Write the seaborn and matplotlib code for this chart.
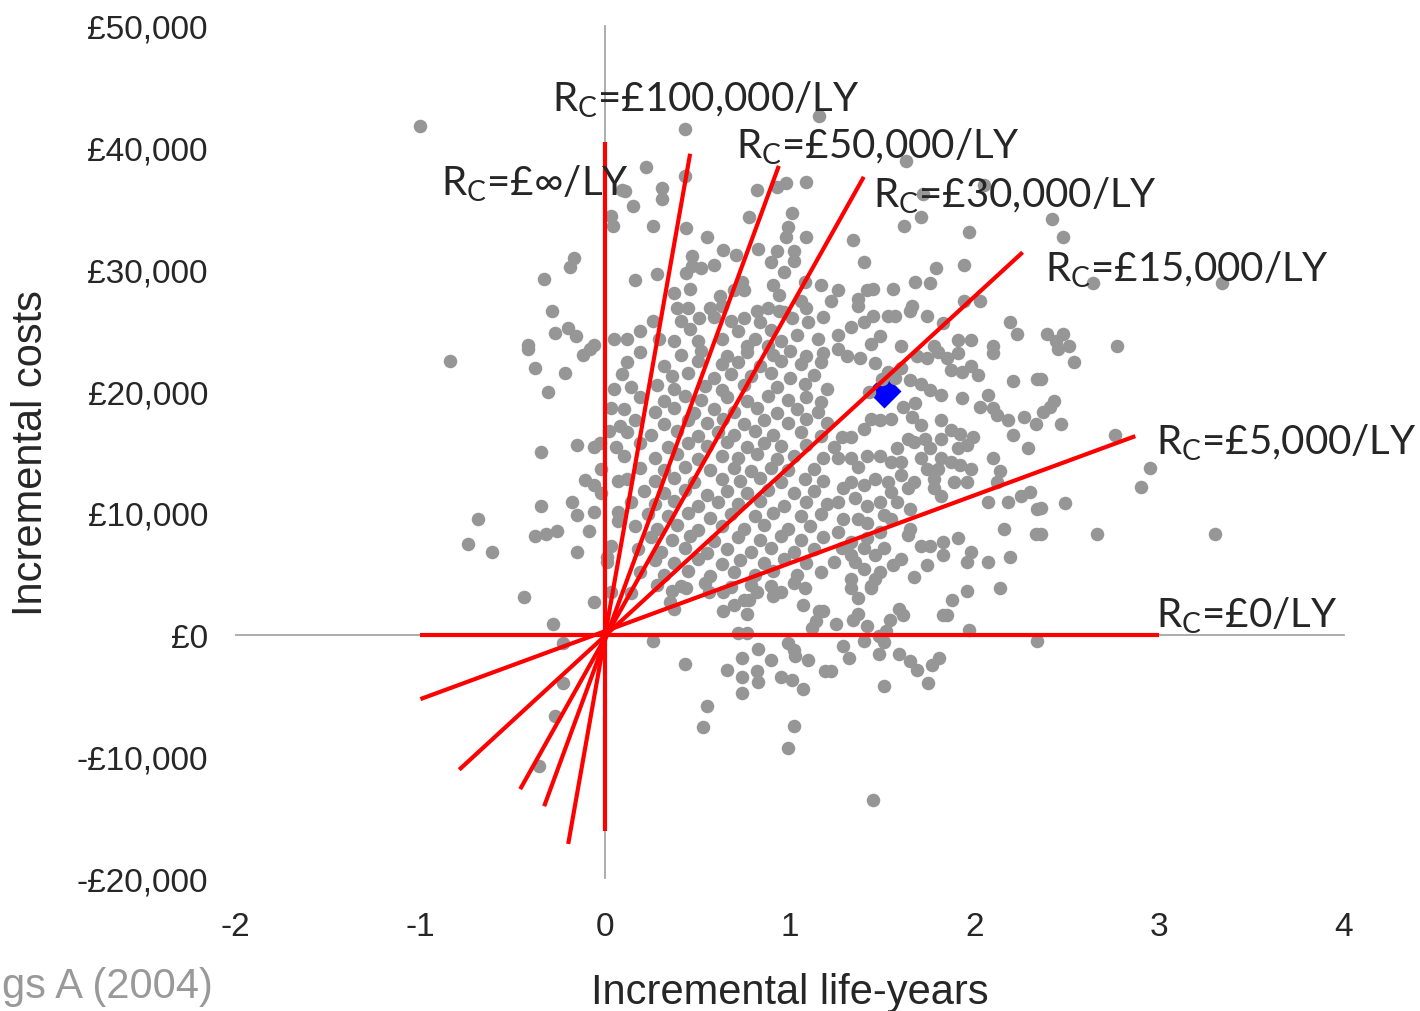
import matplotlib
matplotlib.use('Agg')
import matplotlib.pyplot as plt
import seaborn as sns
import pandas as pd

# incremental life-years / incremental costs (in £ thousands)
left_pts = [(-1.00, 41.8), (-0.84, 22.5), (-0.74, 7.4), (-0.69, 9.5), (-0.61, 6.8),
            (-0.44, 3.1), (-0.06, 2.7), (-0.28, 0.9), (-0.23, -0.7), (-0.23, -4.0),
            (-0.27, -6.7), (-0.36, -10.8),
            (-0.38, 21.9), (-0.22, 21.5), (-0.31, 19.9), (-0.12, 23.0), (-0.08, 23.5),
            (-0.42, 23.5), (0.05, 20.2), (0.03, 18.6), (0.02, 16.7), (0.08, 17.1),
            (-0.15, 15.6), (-0.06, 15.4), (-0.03, 15.7), (0.06, 15.4), (-0.35, 15.0),
            (-0.02, 13.6), (-0.11, 12.7), (-0.06, 12.3), (-0.02, 11.6), (0.07, 12.6),
            (-0.18, 10.9), (-0.35, 10.6), (-0.15, 9.8), (-0.06, 10.1), (0.07, 10.1),
            (0.07, 9.3), (-0.38, 8.1), (-0.32, 8.3), (-0.26, 8.5), (-0.09, 8.5),
            (-0.15, 6.8), (0.03, 7.3), (0.01, 6.4), (0.01, 6.0), (0.03, 3.5),
            (0.03, 34.4), (0.04, 33.6), (-0.17, 30.9), (-0.19, 30.2), (-0.33, 29.2),
            (-0.29, 26.6), (-0.20, 25.2), (-0.27, 24.8), (-0.16, 24.5), (-0.06, 23.8),
            (-0.42, 23.8), (0.05, 24.3), (0.09, 36.5)]

upper_pts = [(0.43, 41.5), (1.16, 42.6), (0.22, 38.4), (0.43, 37.7), (0.11, 36.4),
             (0.31, 36.7), (0.31, 35.8), (0.15, 35.2), (0.26, 33.6), (0.44, 33.4),
             (0.55, 32.7), (0.82, 36.5), (0.93, 36.8), (0.98, 37.1), (1.09, 37.2),
             (0.78, 34.3), (1.01, 34.6), (0.99, 33.5), (0.98, 32.7), (1.09, 32.7),
             (0.64, 31.6), (0.71, 31.2), (0.83, 31.7), (0.93, 31.5), (1.02, 31.5),
             (1.02, 30.7), (0.90, 30.6), (0.97, 29.8), (0.47, 31.1), (0.52, 30.1),
             (0.47, 30.3), (0.59, 30.4), (0.44, 29.7), (0.28, 29.6), (0.16, 29.1),
             (0.46, 28.4), (0.37, 28.1), (0.62, 27.8), (0.70, 28.3), (0.74, 29.0),
             (0.75, 28.3), (0.91, 28.7), (0.94, 27.9), (1.08, 29.0), (1.17, 28.7),
             (1.06, 27.4), (1.09, 26.8), (0.39, 26.8), (0.45, 26.8), (0.57, 26.8),
             (0.63, 27.0), (0.82, 26.6), (0.88, 26.8), (0.94, 26.6), (0.97, 26.5),
             (0.26, 25.8), (0.41, 25.8), (0.51, 26.0), (0.59, 26.1), (0.68, 25.8),
             (0.75, 26.0), (0.84, 25.7), (1.01, 26.0), (1.10, 25.7), (1.18, 26.1),
             (0.19, 24.9), (0.12, 24.3), (0.29, 24.3), (0.37, 24.1), (0.46, 25.1),
             (0.50, 24.1), (0.63, 24.3), (0.72, 24.9), (0.81, 24.3), (0.90, 25.0),
             (0.95, 24.1), (1.04, 24.6), (1.15, 24.3), (0.77, 23.7), (0.88, 23.7),
             (1.63, 38.9), (2.05, 36.9), (1.72, 36.2), (1.71, 34.3), (1.62, 33.6),
             (1.97, 33.1), (1.34, 32.4), (1.40, 30.6), (1.94, 30.4), (1.79, 30.1),
             (1.68, 29.0), (1.76, 28.9), (1.45, 28.4), (1.56, 28.4), (1.42, 28.3),
             (1.26, 28.3), (1.37, 27.6), (1.37, 27.0), (1.22, 27.4), (1.66, 27.0),
             (1.94, 27.4), (2.03, 27.4), (1.45, 26.2), (1.53, 26.2), (1.57, 26.2),
             (1.65, 26.6), (1.74, 26.2), (1.40, 25.7), (1.33, 25.3), (1.26, 24.6),
             (1.49, 24.5), (1.44, 23.9), (1.83, 25.6), (2.19, 25.7), (2.23, 24.7),
             (1.91, 24.2), (1.98, 24.2), (2.10, 23.7), (1.60, 23.7), (1.78, 23.7),
             (2.42, 34.1), (2.48, 32.7), (2.64, 28.9), (3.34, 28.9), (2.39, 24.7),
             (2.48, 24.7), (2.44, 24.1), (2.51, 23.7), (2.77, 23.7)]

right_pts = [(2.45, 23.5), (2.54, 22.4), (2.36, 21.0), (2.43, 19.2), (2.37, 18.3),
             (2.41, 18.7), (2.47, 17.3), (2.76, 16.4), (2.95, 13.7), (2.90, 12.1),
             (2.36, 10.4), (2.49, 10.8), (2.36, 8.3), (2.66, 8.3), (3.30, 8.3),
             (1.26, 23.5), (1.31, 22.9), (1.38, 22.7), (1.46, 22.3), (1.53, 21.6),
             (1.60, 21.9), (1.65, 20.9), (1.71, 20.6), (1.76, 20.1), (1.82, 19.7),
             (1.69, 22.9), (1.74, 22.7), (1.80, 23.2), (1.85, 22.7), (1.91, 23.1),
             (1.87, 21.7), (1.93, 21.6), (1.98, 22.1), (2.02, 21.3), (2.10, 23.1),
             (2.21, 20.8), (2.34, 21.0), (2.07, 19.7), (1.93, 19.4), (2.03, 18.7),
             (2.10, 18.6), (2.12, 18.0), (2.18, 17.6), (2.27, 17.9), (2.33, 17.3),
             (2.21, 16.4), (2.29, 15.3), (2.10, 14.5), (2.14, 13.4), (2.12, 12.5),
             (2.07, 10.9), (2.18, 10.9), (2.25, 11.4), (2.30, 11.7), (2.34, 10.3),
             (2.16, 8.7), (2.33, 8.3), (2.19, 6.4), (2.07, 6.0), (1.96, 6.0),
             (1.98, 6.8), (1.91, 7.9), (1.83, 7.6), (1.83, 6.5), (1.74, 5.7),
             (1.67, 4.7), (1.56, 5.7), (1.60, 6.2), (1.49, 5.1), (1.46, 4.6),
             (1.40, 5.4), (1.35, 6.0), (1.33, 4.6), (1.44, 4.0), (1.76, 7.3),
             (1.64, 8.2), (1.65, 8.7), (1.71, 7.3), (1.82, 11.4), (1.78, 12.0),
             (1.89, 12.5), (1.96, 12.5), (1.87, 14.2), (1.82, 14.5), (1.80, 13.6),
             (1.92, 13.9), (1.98, 13.6), (1.91, 15.3), (1.96, 15.6), (1.99, 16.2),
             (1.92, 16.5), (1.87, 16.8), (1.82, 17.6), (1.82, 16.1), (1.76, 15.3),
             (1.73, 16.1), (1.67, 15.8), (1.64, 16.1), (1.58, 15.3), (1.71, 17.2),
             (1.66, 17.9), (1.68, 19.0), (1.61, 18.7), (1.55, 17.7), (1.49, 17.6),
             (1.44, 17.7), (1.40, 16.9), (1.33, 16.2), (1.28, 16.2), (1.26, 14.5),
             (1.24, 15.4), (1.33, 14.5), (1.37, 13.8), (1.42, 14.7), (1.49, 14.7),
             (1.55, 14.2), (1.60, 14.2), (1.60, 13.1), (1.53, 12.5), (1.46, 12.8),
             (1.40, 12.3), (1.33, 12.5), (1.29, 12.0), (1.26, 10.9), (1.35, 11.2),
             (1.42, 10.6), (1.49, 10.9), (1.55, 11.7), (1.64, 12.0), (1.67, 12.5),
             (1.65, 10.3), (1.58, 10.9), (1.51, 9.8), (1.42, 9.2), (1.37, 9.5),
             (1.29, 9.5), (1.26, 8.4), (1.33, 7.6), (1.42, 7.9), (1.49, 8.4),
             (1.55, 9.5), (1.40, 7.1), (1.46, 6.5), (1.51, 7.1), (1.33, 6.5),
             (1.28, 7.1), (1.24, 6.0), (1.74, 13.6), (1.78, 12.8), (1.71, 14.5),
             (1.50, 21.0), (1.57, 21.1), (1.43, 19.9)]

core_pts = [(0.19, 23.2), (0.41, 23.0), (0.52, 23.3), (0.66, 22.9), (0.77, 23.2), (0.91, 23.0),
            (1.00, 23.3), (1.09, 22.9), (1.18, 23.1),
            (0.12, 22.4), (0.32, 22.1), (0.50, 22.5), (0.63, 22.2), (0.72, 22.4), (0.84, 22.1),
            (0.95, 22.5), (1.06, 22.2), (1.17, 22.4),
            (0.09, 21.4), (0.36, 21.2), (0.45, 21.5), (0.59, 21.1), (0.68, 21.4), (0.79, 21.2),
            (0.90, 21.5), (1.00, 21.1), (1.13, 21.3),
            (0.14, 20.3), (0.28, 20.5), (0.37, 20.2), (0.54, 20.4), (0.63, 20.1), (0.75, 20.5),
            (0.93, 20.3), (1.08, 20.6), (1.20, 20.2),
            (0.19, 19.5), (0.32, 19.2), (0.43, 19.6), (0.52, 19.3), (0.66, 19.5), (0.77, 19.2),
            (0.88, 19.6), (0.99, 19.3), (1.09, 19.5), (1.17, 19.1),
            (0.10, 18.5), (0.27, 18.3), (0.37, 18.6), (0.48, 18.2), (0.59, 18.5), (0.70, 18.3),
            (0.82, 18.6), (0.93, 18.2), (1.04, 18.5), (1.15, 18.3),
            (0.16, 17.6), (0.32, 17.3), (0.45, 17.6), (0.55, 17.4), (0.64, 17.7), (0.75, 17.3),
            (0.86, 17.6), (0.99, 17.4), (1.09, 17.7), (1.20, 17.4),
            (0.12, 16.6), (0.25, 16.4), (0.39, 16.7), (0.50, 16.3), (0.61, 16.6), (0.70, 16.4),
            (0.81, 16.7), (0.91, 16.4), (1.06, 16.6), (1.17, 16.3),
            (0.19, 15.7), (0.34, 15.4), (0.45, 15.7), (0.55, 15.5), (0.66, 15.8), (0.77, 15.4),
            (0.86, 15.7), (0.95, 15.5), (1.09, 15.6),
            (0.10, 14.7), (0.27, 14.5), (0.39, 14.8), (0.50, 14.4), (0.63, 14.7), (0.72, 14.5),
            (0.82, 14.8), (0.93, 14.4), (1.02, 14.7), (1.18, 14.5),
            (0.19, 13.7), (0.32, 13.5), (0.43, 13.8), (0.57, 13.5), (0.70, 13.7), (0.79, 13.4),
            (0.90, 13.7), (0.99, 13.5), (1.13, 13.6),
            (0.12, 12.8), (0.27, 12.6), (0.37, 12.9), (0.48, 12.5), (0.63, 12.8), (0.73, 12.6),
            (0.84, 12.9), (0.95, 12.5), (1.08, 12.8), (1.18, 12.6),
            (0.21, 11.8), (0.32, 11.6), (0.43, 11.9), (0.55, 11.5), (0.66, 11.8), (0.77, 11.6),
            (0.88, 11.9), (1.02, 11.6), (1.13, 11.8),
            (0.14, 10.9), (0.27, 10.7), (0.37, 11.0), (0.50, 10.6), (0.61, 10.9), (0.72, 10.7),
            (0.84, 11.0), (0.97, 10.6), (1.09, 10.9), (1.20, 10.7),
            (0.23, 9.9), (0.34, 9.7), (0.45, 10.0), (0.57, 9.6), (0.68, 9.9), (0.81, 9.7),
            (0.91, 10.0), (1.06, 9.7), (1.17, 9.9),
            (0.16, 8.9), (0.28, 8.7), (0.39, 9.0), (0.50, 8.6), (0.63, 8.9), (0.75, 8.7),
            (0.86, 9.0), (0.99, 8.7), (1.11, 8.9),
            (0.25, 8.0), (0.36, 7.8), (0.46, 8.1), (0.59, 7.7), (0.72, 8.0), (0.84, 7.8),
            (0.95, 8.1), (1.06, 7.8), (1.18, 8.0),
            (0.18, 7.0), (0.30, 6.8), (0.43, 7.1), (0.55, 6.7), (0.66, 7.0), (0.79, 6.8),
            (0.90, 7.1), (1.02, 6.8), (1.13, 7.0),
            (0.27, 6.1), (0.37, 5.9), (0.50, 6.2), (0.63, 5.8), (0.73, 6.1), (0.86, 5.9),
            (0.97, 6.2), (1.09, 5.9),
            (0.19, 5.1), (0.32, 4.9), (0.45, 5.2), (0.57, 4.8), (0.70, 5.1), (0.81, 4.9),
            (0.91, 5.2), (1.04, 4.9), (1.17, 5.1),
            (0.28, 4.1), (0.41, 4.0), (0.54, 4.2), (0.68, 3.9), (0.79, 4.1), (0.90, 4.0),
            (1.02, 4.2)]

lower_pts = [(0.14, 3.4), (0.36, 3.6), (0.44, 3.8), (0.35, 2.7), (0.37, 2.1), (0.56, 3.5),
             (0.64, 3.5), (0.64, 1.9), (0.70, 2.4), (0.75, 2.8), (0.78, 2.8), (0.82, 3.5),
             (0.77, 1.7), (0.91, 3.2), (0.95, 3.5), (1.08, 3.8), (1.07, 2.4), (1.16, 1.9),
             (1.18, 1.9), (1.14, 1.1), (1.12, 0.5), (0.72, 0.1), (0.77, 0.1), (0.26, -0.5),
             (0.99, -0.7), (1.02, -1.3), (1.03, -1.8), (0.83, -1.2), (0.74, -1.9), (0.90, -2.1),
             (1.10, -2.1), (1.19, -3.0), (0.43, -2.4), (0.66, -2.9), (0.74, -3.5), (0.82, -3.0),
             (0.83, -3.9), (0.95, -3.5), (1.01, -3.7), (1.07, -4.5), (0.74, -4.8), (0.55, -5.9),
             (0.53, -7.6), (1.02, -7.5), (0.99, -9.3),
             (1.33, 3.8), (1.44, 3.8), (1.37, 3.0), (1.96, 3.6), (2.14, 3.8), (1.88, 2.8),
             (1.83, 1.6), (1.85, 1.6), (1.59, 2.1), (1.61, 1.6), (1.54, 1.2), (1.37, 1.7),
             (1.34, 1.2), (1.25, 0.9), (1.42, 0.7), (1.52, 0.3), (1.48, -0.1), (1.97, 0.4),
             (1.40, -0.5), (1.51, -0.6), (1.29, -0.9), (1.22, -3.0), (1.32, -1.9), (1.48, -1.6),
             (1.59, -1.6), (1.65, -2.2), (1.69, -2.9), (1.77, -2.5), (1.81, -1.9), (1.51, -4.2),
             (1.75, -4.0), (2.34, -0.5), (1.45, -13.6)]

mean_ly = [1.51]
mean_cost_k = [20.0]

# ceiling-ratio lines: label, start/end points (life-years, £ thousands)
ratio_labels = ['£0', '£5,000', '£15,000', '£30,000', '£50,000', '£100,000', '£∞']
line_x0 = [-1.00, -1.00, -0.79, -0.46, -0.33, -0.20, 0.00]
line_y0 = [0.0, -5.3, -11.1, -12.7, -14.1, -17.2, -16.1]
line_x1 = [3.00, 2.87, 2.26, 1.40, 0.94, 0.46, 0.00]
line_y1 = [0.0, 16.3, 31.4, 37.6, 38.5, 39.5, 40.5]
label_x = [2.98, 2.98, 2.38, 1.45, 0.71, -0.29, -0.89]
label_y = [0.7, 14.9, 29.1, 35.2, 39.2, 43.1, 36.2]

x_ticks = [-2, -1, 0, 1, 2, 3, 4]
y_ticks = [-20000, -10000, 0, 10000, 20000, 30000, 40000, 50000]
y_tick_labels = ['-£20,000', '-£10,000', '£0', '£10,000', '£20,000', '£30,000', '£40,000', '£50,000']

sns.set_style('white')
plt.rcParams['font.family'] = ['Liberation Sans', 'DejaVu Sans']
plt.rcParams['mathtext.fontset'] = 'custom'
plt.rcParams['mathtext.rm'] = 'Lato'

pts = left_pts + upper_pts + right_pts + core_pts + lower_pts
df = pd.DataFrame(pts, columns=['ly', 'cost_k'])
df['cost'] = df['cost_k'] * 1000

grey = '#a6a6a6'
fig = plt.figure(figsize=(14.2, 10.12), dpi=100)
ax = fig.add_axes([0.166, 0.1314, 0.7805, 0.842])

ax.scatter(mean_ly, [c * 1000 for c in mean_cost_k], marker='D', s=300,
           color='blue', linewidth=0, zorder=2)
sns.scatterplot(data=df, x='ly', y='cost', color='#969696', s=95, linewidth=0,
                ax=ax, zorder=3, legend=False)

for i in range(len(ratio_labels)):
    ax.plot([line_x0[i], line_x1[i]], [line_y0[i] * 1000, line_y1[i] * 1000],
            color='red', linewidth=3, zorder=4, solid_capstyle='butt')
    ax.text(label_x[i], label_y[i] * 1000, r'R$_{\mathrm{C}}$=' + ratio_labels[i] + '/LY',
            family=['Lato', 'DejaVu Sans'], fontsize=29, va='baseline', ha='left', zorder=5)

ax.set_xlim(-2, 4)
ax.set_ylim(-20000, 50000)

# axis lines cross at the origin
ax.spines['left'].set_position(('data', 0))
ax.spines['bottom'].set_position(('data', 0))
ax.spines['top'].set_visible(False)
ax.spines['right'].set_visible(False)
for s in ['left', 'bottom']:
    ax.spines[s].set_color(grey)
    ax.spines[s].set_linewidth(1.3)
    ax.spines[s].set_zorder(1)
ax.set_xticks(x_ticks)
ax.set_yticks(y_ticks)
ax.tick_params(direction='out', length=6, width=1.3, color=grey,
               labelleft=False, labelbottom=False)
ax.set_xlabel('')
ax.set_ylabel('')

# tick labels sit at the low edge of the plot, like the original
sx = ax.secondary_xaxis(0.0)
sx.set_xticks(x_ticks, [str(t) for t in x_ticks])
sx.tick_params(length=0, pad=24, labelsize=24)
sy = ax.secondary_yaxis(0.0)
sy.set_yticks(y_ticks, y_tick_labels)
sy.tick_params(length=0, pad=20, labelsize=24)
for sec in (sx, sy):
    for sp in sec.spines.values():
        sp.set_visible(False)

sx.set_xlabel('Incremental life-years', fontsize=30, labelpad=21)
sy.set_ylabel('Incremental costs', fontsize=30, labelpad=18)

fig.text(213 / 1420, 1 - 987 / 1012, 'Briggs A (2004)', ha='right', va='center',
         fontsize=30, color='#999999')

fig.savefig('out.png', dpi=100)
